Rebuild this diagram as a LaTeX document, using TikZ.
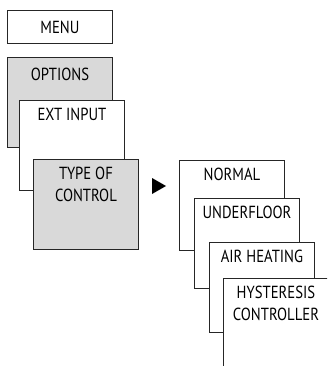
\documentclass[tikz,border=0pt]{standalone}
\usepackage{fontspec}
\setmainfont{PT Sans}[FakeStretch=0.84]
\usepackage{tikz}
\usetikzlibrary{positioning}

\begin{document}
\begin{tikzpicture}[
  x=1pt, y=-1pt,
  font=\fontsize{17.5}{22}\selectfont,
  menubox/.style={
    draw=black!85,
    fill=white,
    line width=0.9pt,
    anchor=north west,
    minimum width=105pt,
    minimum height=90pt,
    inner sep=0pt
  },
  greybox/.style={
    menubox,
    fill=black!15
  },
  boxtext/.style={
    anchor=north,
    yshift=-8pt,
    align=center,
    inner sep=0pt
  }
]
\clip (0,0) rectangle (327,366);

% Main menu column
\node[menubox, minimum height=33pt] (menu) at (7,10) {MENU};
\node[greybox, label={[boxtext, yshift=-3pt]north:OPTIONS}] (options) at (7,57) {};
\node[menubox, label={[boxtext]north:EXT INPUT}] (extinput) at (19,100) {};
\node[greybox, label={[boxtext]north:TYPE OF\\CONTROL}] (typectrl) at (33,159) {};

% Pointer
\fill[black] (152,178) -- (166,186) -- (152,194) -- cycle;

% Control types
\node[menubox, label={[boxtext]north:NORMAL}] (normal) at (179,160) {};
\node[menubox, label={[boxtext]north:UNDERFLOOR}] (underfloor) at (194,198) {};
\node[menubox, label={[boxtext]north:AIR HEATING}] (airheat) at (209,242) {};
\node[menubox, label={[boxtext]north:HYSTERESIS\\CONTROLLER}] (hysteresis) at (223,278) {};

\end{tikzpicture}
\end{document}
